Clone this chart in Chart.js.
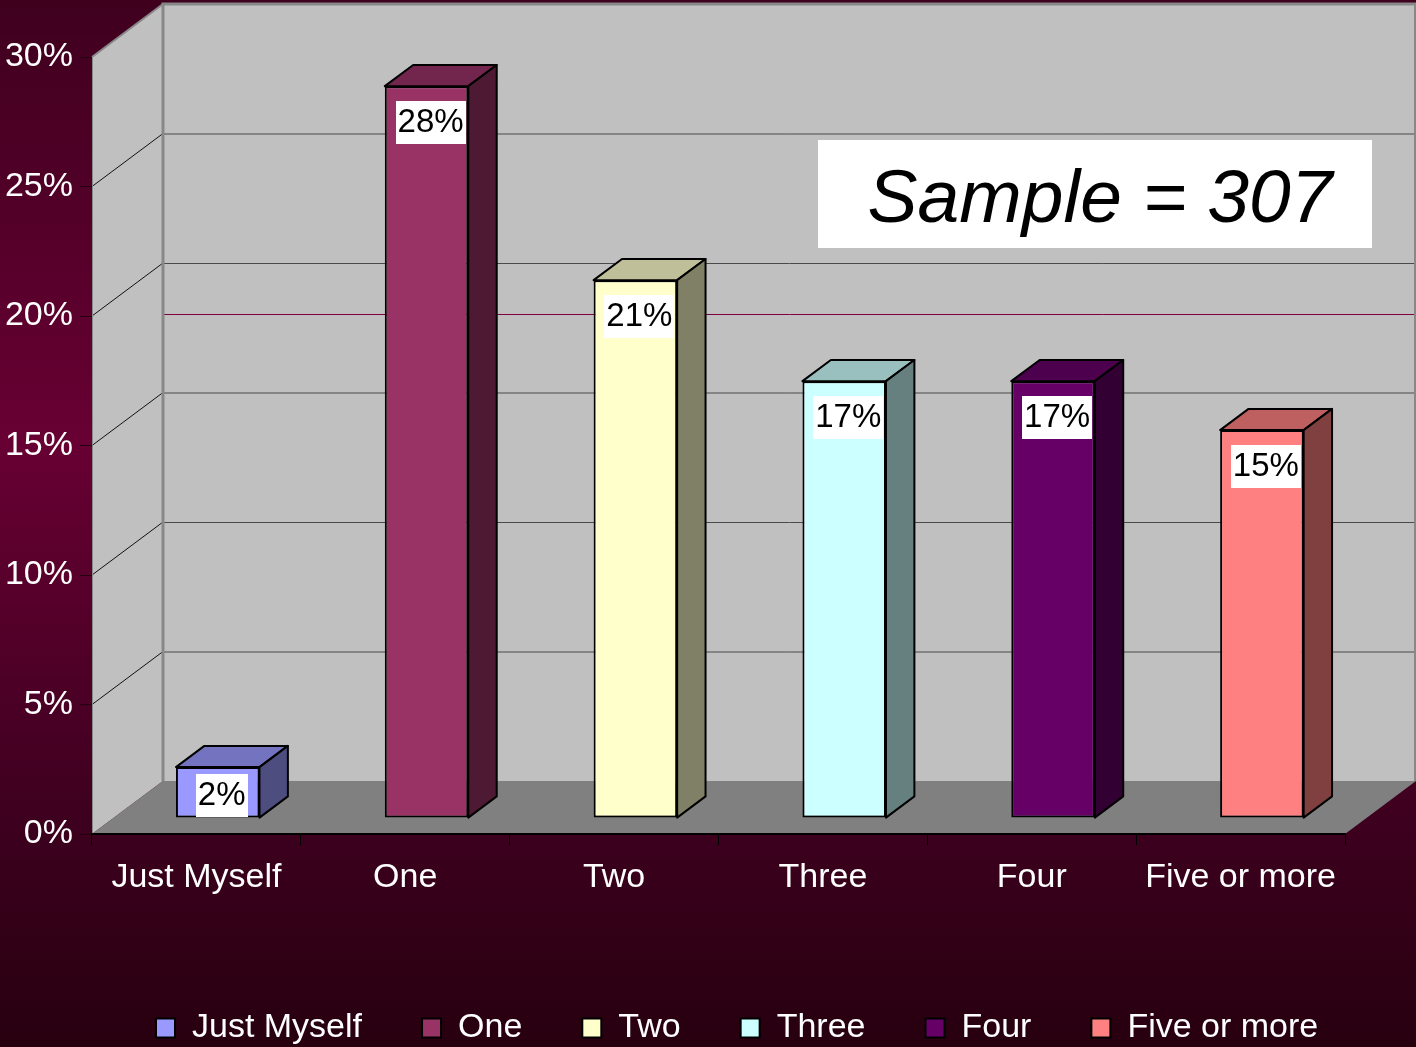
<!DOCTYPE html>
<html><head><meta charset="utf-8">
<script src="https://cdn.jsdelivr.net/npm/chart.js@4.4.1/dist/chart.umd.min.js"></script>
<style>html,body{margin:0;padding:0;background:#3a001d;overflow:hidden}canvas{display:block}</style>
</head><body>
<canvas id="c" width="1416" height="1047"></canvas>
<script>
// ---- data ----
const categories = ['Just Myself', 'One', 'Two', 'Three', 'Four', 'Five or more'];
const shares = [1.97, 28.26, 20.77, 16.87, 16.87, 14.98];   // percent of respondents
const yTickStep = 5;
const yMax = 30;
const sampleText = 'Sample = 307';

// ---- style ----
const FRONT = ['#9999FF', '#993366', '#FFFFCC', '#CCFFFF', '#660066', '#FF8080'];
const TOPC  = ['#7373BF', '#73264D', '#BFBF99', '#99BFBF', '#4D004D', '#BF6060'];
const SIDE  = ['#4D4D80', '#4D1933', '#808066', '#668080', '#330033', '#804040'];
const FONT = "'Liberation Sans', Arial, sans-serif";
const DX = 71, DY = 53;            // depth of the 3D box in pixels
const Z0 = 0.3, Z1 = 0.7;          // bar front/back depth fraction

const scene = {
  id: 'scene3d',
  beforeDraw(chart) {
    const ctx = chart.ctx, W = chart.width, H = chart.height;
    const a = chart.chartArea, ys = chart.scales.y;
    const g = ctx.createLinearGradient(0, 0, 0, H);
    g.addColorStop(0, '#3f001e');
    g.addColorStop(0.42, '#680033');
    g.addColorStop(0.78, '#3e001f');
    g.addColorStop(1, '#27000f');
    ctx.save();
    ctx.fillStyle = g; ctx.fillRect(0, 0, W, H);
    const L = a.left, R = a.right, T = ys.getPixelForValue(yMax), B = ys.getPixelForValue(0);
    // back wall
    ctx.fillStyle = '#C0C0C0';
    ctx.fillRect(L + DX, T - DY, R - L, B - T);
    // side wall
    ctx.beginPath();
    ctx.moveTo(L, B); ctx.lineTo(L, T); ctx.lineTo(L + DX, T - DY); ctx.lineTo(L + DX, B - DY); ctx.closePath();
    ctx.fill();
    // floor
    ctx.fillStyle = '#808080';
    ctx.beginPath();
    ctx.moveTo(L, B); ctx.lineTo(R, B); ctx.lineTo(R + DX, B - DY); ctx.lineTo(L + DX, B - DY); ctx.closePath();
    ctx.fill();
    // gridlines
    for (let v = yTickStep; v < yMax; v += yTickStep) {
      const yf = ys.getPixelForValue(v), yb = yf - DY;
      ctx.strokeStyle = '#4a4a4a'; ctx.lineWidth = 1;
      ctx.beginPath(); ctx.moveTo(L + DX, yb + 0.5); ctx.lineTo(R + DX, yb + 0.5); ctx.stroke();
      ctx.strokeStyle = '#111';
      ctx.beginPath(); ctx.moveTo(L, yf); ctx.lineTo(L + DX, yb); ctx.stroke();
    }
    // stray maroon line on back wall
    ctx.strokeStyle = '#800040'; ctx.lineWidth = 1;
    const ym = Math.round(ys.getPixelForValue(20)) - 1.5;
    ctx.beginPath(); ctx.moveTo(L + DX, ym); ctx.lineTo(R + DX, ym); ctx.stroke();
    // wall edges
    ctx.strokeStyle = '#888888';
    ctx.lineWidth = 3;
    ctx.beginPath(); ctx.moveTo(L + DX, B - DY); ctx.lineTo(L + DX, T - DY); ctx.lineTo(R + DX, T - DY); ctx.stroke();
    ctx.lineWidth = 2;
    ctx.beginPath(); ctx.moveTo(L, T); ctx.lineTo(L + DX, T - DY); ctx.stroke();
    ctx.beginPath(); ctx.moveTo(R + DX - 1, T - DY); ctx.lineTo(R + DX - 1, B - DY); ctx.stroke();
    ctx.lineWidth = 1;
    ctx.beginPath(); ctx.moveTo(L + 0.5, T); ctx.lineTo(L + 0.5, B); ctx.stroke();
    ctx.restore();
    // legend placement
    if (chart.legend) {
      chart.legend.left = 96;
      if (!chart.legend._shifted) { chart.legend.top += 8; chart.legend.bottom += 8; chart.legend._shifted = true; }
    }
  },
  beforeDatasetsDraw(chart) {
    chart.ctx.save();
    chart.ctx.translate(DX * Z0, -DY * Z0);
  },
  afterDatasetsDraw(chart) {
    const ctx = chart.ctx;
    const meta = chart.getDatasetMeta(0);
    const ddx = DX * (Z1 - Z0), ddy = DY * (Z1 - Z0);
    meta.data.forEach((el, i) => {
      const p = el.getProps(['x', 'y', 'base', 'width'], true);
      const x0 = p.x - p.width / 2, x1 = p.x + p.width / 2;
      ctx.lineWidth = 2; ctx.strokeStyle = '#000'; ctx.lineJoin = 'round';
      ctx.fillStyle = TOPC[i];
      ctx.beginPath();
      ctx.moveTo(x0, p.y); ctx.lineTo(x0 + ddx, p.y - ddy); ctx.lineTo(x1 + ddx, p.y - ddy); ctx.lineTo(x1, p.y); ctx.closePath();
      ctx.fill(); ctx.stroke();
      ctx.fillStyle = SIDE[i];
      ctx.beginPath();
      ctx.moveTo(x1, p.y); ctx.lineTo(x1 + ddx, p.y - ddy); ctx.lineTo(x1 + ddx, p.base - ddy); ctx.lineTo(x1, p.base); ctx.closePath();
      ctx.fill(); ctx.stroke();
    });
    ctx.restore();
    // data labels
    ctx.save();
    ctx.font = '33px ' + FONT;
    ctx.textAlign = 'center'; ctx.textBaseline = 'middle';
    meta.data.forEach((el, i) => {
      const p = el.getProps(['x', 'y', 'base'], true);
      const fx = p.x + DX * Z0 + 4;
      const fTop = p.y - DY * Z0, fBase = p.base - DY * Z0;
      const cy = Math.min(fTop + 36, fBase - 23);
      const txt = Math.round(shares[i]) + '%';
      const w = ctx.measureText(txt).width;
      ctx.fillStyle = '#fff';
      ctx.fillRect(Math.round(fx - w / 2 - 2), Math.round(cy - 21), Math.round(w + 4), 43);
      ctx.fillStyle = '#000';
      ctx.fillText(txt, fx, cy + 1);
    });
    // sample box
    ctx.fillStyle = '#fff';
    ctx.fillRect(818, 140, 554, 108);
    ctx.fillStyle = '#000';
    ctx.font = 'italic 75px ' + FONT;
    ctx.textBaseline = 'alphabetic';
    ctx.fillText(sampleText, 1100, 222);
    ctx.restore();
  }
};

new Chart(document.getElementById('c'), {
  type: 'bar',
  data: {
    labels: categories,
    datasets: [{
      data: shares,
      backgroundColor: FRONT,
      borderColor: '#000',
      borderWidth: 2,
      borderSkipped: false,
      categoryPercentage: 1,
      barPercentage: 0.4,
      clip: false
    }]
  },
  options: {
    responsive: false,
    animation: false,
    layout: { padding: { top: 57, right: 0, left: 0, bottom: 0 } },
    plugins: {
      tooltip: { enabled: false },
      legend: {
        position: 'bottom',
        align: 'start',
        onClick: null,
        labels: {
          font: { size: 34, family: FONT },
          color: '#fff',
          boxWidth: 19,
          boxHeight: 19,
          padding: 60,
          generateLabels: () => categories.map((c, i) => ({
            text: c, fillStyle: FRONT[i], strokeStyle: '#000', lineWidth: 2,
            fontColor: '#fff', hidden: false, index: i
          }))
        }
      }
    },
    scales: {
      x: {
        grid: { drawOnChartArea: false, drawTicks: true, tickLength: 11, tickColor: '#000', offset: true },
        border: { display: true, color: '#000', width: 2 },
        ticks: { color: '#fff', font: { size: 34, family: FONT }, padding: 12, maxRotation: 0, autoSkip: false },
        afterFit(s) { s.height = s.chart.height - 834 - (s.chart.legend ? s.chart.legend.height : 0); }
      },
      y: {
        min: 0, max: yMax,
        grid: { drawOnChartArea: false, drawTicks: true, tickLength: 12, tickColor: '#220010' },
        border: { display: false },
        ticks: { stepSize: yTickStep, color: '#fff', font: { size: 34, family: FONT }, padding: 7,
                 callback: v => v + '%' },
        afterFit(s) { s.width = 92; }
      },
      depth: {
        position: 'right',
        display: true,
        grid: { display: false, drawTicks: false },
        border: { display: false },
        ticks: { display: false },
        afterFit(s) { s.width = 71; }
      }
    }
  },
  plugins: [scene]
});
</script>
</body></html>
